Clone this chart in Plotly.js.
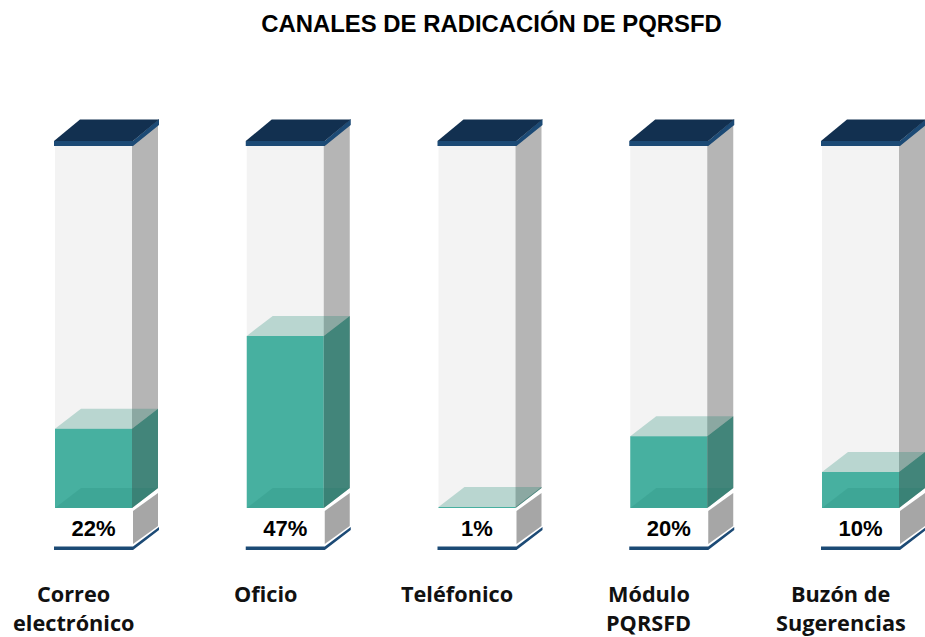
<!DOCTYPE html>
<html>
<head>
<meta charset="utf-8">
<script src="https://cdn.plot.ly/plotly-3.0.1.min.js"></script>
<style>html,body{margin:0;padding:0;background:#fff;overflow:hidden}</style>
</head>
<body>
<div id="chart" style="width:925px;height:637px"></div>
<script>
const categories = ['Correo<br>electrónico', 'Oficio', 'Teléfonico', 'Módulo<br>PQRSFD', 'Buzón de<br>Sugerencias'];
const percentLabels = ['22%', '47%', '1%', '20%', '10%'];
const fillLevels = [21.8, 47.4, 0.3, 19.8, 9.9];

// pixel scale of the axes
const W = 925, H = 637, PXX = 191.75, PXY = 3.63, X0 = 93.5, Y0 = 508;
const dx = p => p / PXX, dy = p => p / PXY;
const HALF = dx(38.5), DX = dx(26), DY = dy(20);
const TOP = 100;

const poly = (pts, fill, layer) => ({
  type: 'path', xref: 'x', yref: 'y', layer: layer || 'above',
  path: 'M' + pts.map(p => p[0] + ' ' + p[1]).join(' L') + ' Z',
  fillcolor: fill, line: {width: 0}
});

const shapes = [];
categories.forEach((c, i) => {
  const l = i - HALF, r = i + HALF, v = fillLevels[i];
  // tube
  shapes.push(poly([[l, 0], [r, 0], [r, TOP], [l, TOP]], '#f3f3f3', 'below'));
  shapes.push(poly([[r, 0], [r + DX, DY], [r + DX, TOP + DY], [r, TOP]], '#b5b5b5', 'below'));
  // liquid: side, floor, surface
  shapes.push(poly([[r, 0], [r + DX, DY], [r + DX, v + DY], [r, v]], '#42857a'));
  if (v > 1) shapes.push(poly([[l, 0], [l + DX, DY], [r + DX, DY], [r, 0]], 'rgba(20,120,100,0.16)'));
  shapes.push(poly([[l, v], [l + DX, v + DY], [r + DX, v + DY], [r, v]], 'rgba(19,131,108,0.26)'));
  // base
  shapes.push(poly([[r + dx(1), dy(-3)], [r + DX, dy(15)], [r + DX, dy(-18)], [r + dx(1), dy(-36)]], '#a6a6a6'));
  shapes.push(poly([[l - dx(1), dy(-42)], [r + dx(1), dy(-42)], [r + dx(27), dy(-22)], [r + dx(27), dy(-19)], [r + dx(1), dy(-38.5)], [l - dx(1), dy(-38.5)]], '#1c4a75'));
  // lid
  shapes.push(poly([[l - dx(1), TOP - dy(1)], [r + dx(1), TOP - dy(1)], [r + dx(27), TOP + dy(20)], [r + dx(27), TOP + dy(26)], [r + dx(1), TOP + dy(4)], [l - dx(1), TOP + dy(4)]], '#1c4a75'));
  shapes.push(poly([[l - dx(1), TOP + dy(4)], [r + dx(1), TOP + dy(4)], [r + dx(27), TOP + dy(25.5)], [l + dx(25), TOP + dy(25.5)]], '#123050'));
});

const annotations = [];
categories.forEach((c, i) => {
  c.split('<br>').forEach((line, k) => annotations.push({
    x: i, y: dy(-85.5 - 29 * k), xref: 'x', yref: 'y', xshift: -20,
    text: line, showarrow: false, xanchor: 'center', yanchor: 'middle',
    font: {family: 'Open Sans, sans-serif', size: 21.7, color: '#111', weight: 700}
  }));
});

const traces = [
  {type: 'bar', x: categories, y: fillLevels, width: 2 * HALF, marker: {color: '#47b0a0', line: {width: 0}}, hoverinfo: 'none'},
  {type: 'scatter', mode: 'text', x: categories, y: categories.map(() => dy(-22)), text: percentLabels,
   textposition: 'middle center', textfont: {family: 'Liberation Sans, Arial, sans-serif', size: 22, color: '#000', weight: 700}, hoverinfo: 'none'}
];

const layout = {
  width: W, height: H,
  margin: {l: 0, r: 0, t: 0, b: 0},
  paper_bgcolor: '#fff', plot_bgcolor: '#fff',
  showlegend: false,
  title: {text: 'CANALES DE RADICACIÓN DE PQRSFD', x: 491.5 / W, xanchor: 'center', y: 1 - 24 / H, yanchor: 'middle',
          font: {family: 'Liberation Sans, Arial, sans-serif', size: 23.9, color: '#000', weight: 700}},
  xaxis: {type: 'category', categoryorder: 'array', categoryarray: categories, range: [-X0 / PXX, (W - X0) / PXX], visible: false, fixedrange: true},
  yaxis: {range: [(Y0 - H) / PXY, Y0 / PXY], visible: false, fixedrange: true},
  shapes, annotations
};

Plotly.newPlot('chart', traces, layout, {displayModeBar: false, staticPlot: true});
</script>
</body>
</html>
